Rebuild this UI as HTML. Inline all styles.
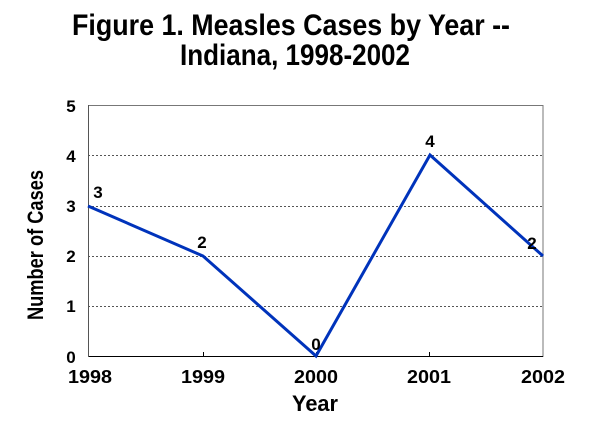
<!DOCTYPE html>
<html><head><meta charset="utf-8"><style>body{margin:0;background:#fff}</style></head><body>
<svg width="600" height="431" xmlns="http://www.w3.org/2000/svg" font-family="Liberation Sans, Arial, sans-serif" font-weight="bold">
<rect width="600" height="431" fill="#fff"/>
<text x="291" y="35" font-size="30" text-anchor="middle" textLength="438" lengthAdjust="spacingAndGlyphs">Figure 1. Measles Cases by Year --</text>
<text x="295" y="65" font-size="30" text-anchor="middle" textLength="230" lengthAdjust="spacingAndGlyphs">Indiana, 1998-2002</text>
<g stroke="#555" stroke-width="1" stroke-dasharray="2,2">
<line x1="88" y1="155.5" x2="543" y2="155.5"/>
<line x1="88" y1="206.5" x2="543" y2="206.5"/>
<line x1="88" y1="256.5" x2="543" y2="256.5"/>
<line x1="88" y1="306.5" x2="543" y2="306.5"/>
</g>
<rect x="88.5" y="105.5" width="454.5" height="251" fill="none" stroke="#777" stroke-width="1"/>
<line x1="88" y1="356.5" x2="543" y2="356.5" stroke="#000"/>
<line x1="88.5" y1="105" x2="88.5" y2="357" stroke="#555"/>
<g stroke="#000"><line x1="203.5" y1="357" x2="203.5" y2="352"/><line x1="316.5" y1="357" x2="316.5" y2="352"/><line x1="429.5" y1="357" x2="429.5" y2="352"/></g>
<polyline points="88,206 203,256 316,356 430,155 543,256" fill="none" stroke="#0033bb" stroke-width="3" stroke-linejoin="miter"/>
<g font-size="17">
<text x="98" y="198" text-anchor="middle">3</text>
<text x="202" y="248" text-anchor="middle">2</text>
<text x="316" y="350" text-anchor="middle">0</text>
<text x="430" y="147" text-anchor="middle">4</text>
<text x="532" y="249" text-anchor="middle">2</text>
</g>
<g font-size="17" text-anchor="middle">
<text x="71" y="112">5</text><text x="71" y="162">4</text><text x="71" y="212">3</text><text x="71" y="262">2</text><text x="71" y="312">1</text><text x="71" y="363">0</text>
</g>
<g font-size="18" text-anchor="middle">
<text x="90" y="383" textLength="44" lengthAdjust="spacingAndGlyphs">1998</text><text x="203" y="383" textLength="44" lengthAdjust="spacingAndGlyphs">1999</text><text x="316" y="383" textLength="44" lengthAdjust="spacingAndGlyphs">2000</text><text x="429" y="383" textLength="44" lengthAdjust="spacingAndGlyphs">2001</text><text x="543" y="383" textLength="44" lengthAdjust="spacingAndGlyphs">2002</text>
</g>
<text x="315" y="411" font-size="22" text-anchor="middle" textLength="46" lengthAdjust="spacingAndGlyphs">Year</text>
<text transform="translate(43,245) rotate(-90)" font-size="22" text-anchor="middle" textLength="150" lengthAdjust="spacingAndGlyphs">Number of Cases</text>
</svg>
</body></html>
